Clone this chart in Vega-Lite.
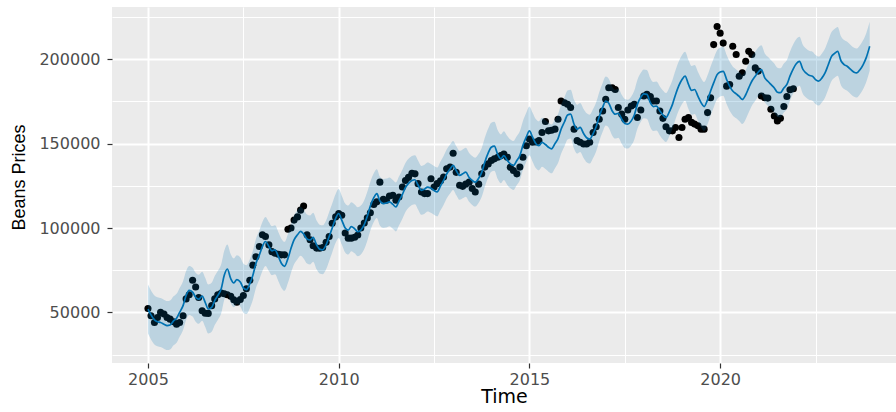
{
"$schema":"https://vega.github.io/schema/vega-lite/v6.json",
"width":784,"height":356,
"autosize":{"type":"none"},
"padding":{"left":112,"top":7,"right":0,"bottom":49},
"background":"#FFFFFF",
"config":{"view":{"fill":"#EBEBEB","stroke":null}},
"datasets":{
"obs":[
{"t":2005.0,"v":52300},{"t":2005.08,"v":48000},{"t":2005.17,"v":44000},{"t":2005.25,"v":47000},{"t":2005.33,"v":50000},{"t":2005.42,"v":49000},{"t":2005.5,"v":47000},{"t":2005.58,"v":46000},{"t":2005.67,"v":44500},{"t":2005.75,"v":43000},{"t":2005.83,"v":44000},{"t":2005.92,"v":48000},
{"t":2006.0,"v":58000},{"t":2006.08,"v":60500},{"t":2006.17,"v":69000},{"t":2006.25,"v":65000},{"t":2006.33,"v":58800},{"t":2006.42,"v":51000},{"t":2006.5,"v":49500},{"t":2006.58,"v":49400},{"t":2006.67,"v":54000},{"t":2006.75,"v":58000},{"t":2006.83,"v":60500},{"t":2006.92,"v":61500},
{"t":2007.0,"v":61000},{"t":2007.08,"v":60500},{"t":2007.17,"v":59500},{"t":2007.25,"v":57500},{"t":2007.33,"v":56000},{"t":2007.42,"v":57600},{"t":2007.5,"v":60000},{"t":2007.58,"v":64000},{"t":2007.67,"v":69000},{"t":2007.75,"v":78000},{"t":2007.83,"v":83000},{"t":2007.92,"v":89000},
{"t":2008.0,"v":96000},{"t":2008.08,"v":95000},{"t":2008.17,"v":90000},{"t":2008.25,"v":86000},{"t":2008.33,"v":85100},{"t":2008.42,"v":84500},{"t":2008.5,"v":84100},{"t":2008.58,"v":84100},{"t":2008.67,"v":99300},{"t":2008.75,"v":100000},{"t":2008.83,"v":104700},{"t":2008.92,"v":106600},
{"t":2009.0,"v":110600},{"t":2009.08,"v":113000},{"t":2009.17,"v":96000},{"t":2009.25,"v":93000},{"t":2009.33,"v":89500},{"t":2009.42,"v":88100},{"t":2009.5,"v":88000},{"t":2009.58,"v":88500},{"t":2009.67,"v":91500},{"t":2009.75,"v":95000},{"t":2009.83,"v":102800},{"t":2009.92,"v":106600},
{"t":2010.0,"v":108600},{"t":2010.08,"v":107600},{"t":2010.17,"v":97000},{"t":2010.25,"v":94000},{"t":2010.33,"v":94000},{"t":2010.42,"v":94500},{"t":2010.5,"v":95900},{"t":2010.58,"v":100000},{"t":2010.67,"v":103000},{"t":2010.75,"v":106000},{"t":2010.83,"v":109000},{"t":2010.92,"v":114000},
{"t":2011.0,"v":115500},{"t":2011.08,"v":127200},{"t":2011.17,"v":117000},{"t":2011.25,"v":116500},{"t":2011.33,"v":119000},{"t":2011.42,"v":119400},{"t":2011.5,"v":116500},{"t":2011.58,"v":118400},{"t":2011.67,"v":124300},{"t":2011.75,"v":128200},{"t":2011.83,"v":130000},{"t":2011.92,"v":132500},
{"t":2012.0,"v":132100},{"t":2012.08,"v":126300},{"t":2012.17,"v":121400},{"t":2012.25,"v":120400},{"t":2012.33,"v":120400},{"t":2012.42,"v":129200},{"t":2012.5,"v":124300},{"t":2012.58,"v":126300},{"t":2012.67,"v":128000},{"t":2012.75,"v":130200},{"t":2012.83,"v":135100},{"t":2012.92,"v":136100},
{"t":2013.0,"v":144300},{"t":2013.08,"v":133000},{"t":2013.17,"v":125300},{"t":2013.25,"v":124700},{"t":2013.33,"v":126000},{"t":2013.42,"v":127200},{"t":2013.5,"v":123400},{"t":2013.58,"v":121400},{"t":2013.67,"v":126000},{"t":2013.75,"v":132100},{"t":2013.83,"v":136100},{"t":2013.92,"v":138000},
{"t":2014.0,"v":140000},{"t":2014.08,"v":141000},{"t":2014.17,"v":142000},{"t":2014.25,"v":142900},{"t":2014.33,"v":143900},{"t":2014.42,"v":141900},{"t":2014.5,"v":136000},{"t":2014.58,"v":134100},{"t":2014.67,"v":132100},{"t":2014.75,"v":136100},{"t":2014.83,"v":142000},{"t":2014.92,"v":148800},
{"t":2015.0,"v":152700},{"t":2015.08,"v":150800},{"t":2015.17,"v":151000},{"t":2015.25,"v":151800},{"t":2015.33,"v":156600},{"t":2015.42,"v":163100},{"t":2015.5,"v":157600},{"t":2015.58,"v":158000},{"t":2015.67,"v":158600},{"t":2015.75,"v":164500},{"t":2015.83,"v":175300},{"t":2015.92,"v":174300},
{"t":2016.0,"v":173300},{"t":2016.08,"v":171400},{"t":2016.17,"v":158600},{"t":2016.25,"v":151800},{"t":2016.33,"v":150800},{"t":2016.42,"v":149800},{"t":2016.5,"v":149800},{"t":2016.58,"v":150800},{"t":2016.67,"v":156600},{"t":2016.75,"v":160000},{"t":2016.83,"v":164500},{"t":2016.92,"v":169400},
{"t":2017.0,"v":176300},{"t":2017.08,"v":183100},{"t":2017.17,"v":183100},{"t":2017.25,"v":182100},{"t":2017.33,"v":171400},{"t":2017.42,"v":167500},{"t":2017.5,"v":164500},{"t":2017.58,"v":170000},{"t":2017.67,"v":172300},{"t":2017.75,"v":173300},{"t":2017.83,"v":165500},{"t":2017.92,"v":170000},
{"t":2018.0,"v":178200},{"t":2018.08,"v":179200},{"t":2018.17,"v":178000},{"t":2018.25,"v":175300},{"t":2018.33,"v":175300},{"t":2018.42,"v":169400},{"t":2018.5,"v":165000},{"t":2018.58,"v":160000},{"t":2018.67,"v":157600},{"t":2018.75,"v":157600},{"t":2018.83,"v":159600},{"t":2018.92,"v":153700},
{"t":2019.0,"v":159600},{"t":2019.08,"v":164500},{"t":2019.17,"v":165500},{"t":2019.25,"v":162600},{"t":2019.33,"v":161600},{"t":2019.42,"v":160600},{"t":2019.5,"v":158600},{"t":2019.58,"v":158600},{"t":2019.67,"v":168400},{"t":2019.75,"v":177200},{"t":2019.83,"v":208700},{"t":2019.92,"v":219400},
{"t":2020.0,"v":215500},{"t":2020.08,"v":209600},{"t":2020.17,"v":184100},{"t":2020.25,"v":185100},{"t":2020.33,"v":207700},{"t":2020.42,"v":202800},{"t":2020.5,"v":190000},{"t":2020.58,"v":192000},{"t":2020.67,"v":198800},{"t":2020.75,"v":204700},{"t":2020.83,"v":202800},{"t":2020.92,"v":194900},
{"t":2021.0,"v":193000},{"t":2021.08,"v":178200},{"t":2021.17,"v":177200},{"t":2021.25,"v":177000},{"t":2021.33,"v":170400},{"t":2021.42,"v":166400},{"t":2021.5,"v":163500},{"t":2021.58,"v":165000},{"t":2021.67,"v":172000},{"t":2021.75,"v":178000},{"t":2021.83,"v":182000},{"t":2021.92,"v":182500}
],
"fc":[
{"t":2005.0,"yhat":52000,"lo":37500,"hi":66500},{"t":2005.08,"yhat":48500,"lo":34000,"hi":63000},{"t":2005.17,"yhat":45500,"lo":31000,"hi":60000},{"t":2005.25,"yhat":44500,"lo":30000,"hi":59000},{"t":2005.33,"yhat":44000,"lo":29500,"hi":58500},{"t":2005.42,"yhat":43000,"lo":28500,"hi":57500},{"t":2005.5,"yhat":42200,"lo":27700,"hi":56700},{"t":2005.58,"yhat":42500,"lo":28000,"hi":57000},{"t":2005.67,"yhat":45000,"lo":30500,"hi":59500},{"t":2005.75,"yhat":46500,"lo":32000,"hi":61000},{"t":2005.83,"yhat":50000,"lo":35500,"hi":64500},{"t":2005.92,"yhat":54000,"lo":39500,"hi":68500},
{"t":2006.0,"yhat":60000,"lo":45500,"hi":74500},{"t":2006.08,"yhat":63000,"lo":48500,"hi":77500},{"t":2006.17,"yhat":62000,"lo":47500,"hi":76500},{"t":2006.25,"yhat":59000,"lo":44500,"hi":73500},{"t":2006.33,"yhat":57800,"lo":43300,"hi":72300},{"t":2006.42,"yhat":59600,"lo":45100,"hi":74100},{"t":2006.5,"yhat":56000,"lo":41500,"hi":70500},{"t":2006.58,"yhat":52000,"lo":37500,"hi":66500},{"t":2006.67,"yhat":53000,"lo":38500,"hi":67500},{"t":2006.75,"yhat":57000,"lo":42500,"hi":71500},{"t":2006.83,"yhat":60000,"lo":45500,"hi":74500},{"t":2006.92,"yhat":64000,"lo":49500,"hi":78500},
{"t":2007.0,"yhat":72000,"lo":57500,"hi":86500},{"t":2007.08,"yhat":75700,"lo":61200,"hi":90200},{"t":2007.17,"yhat":70000,"lo":55500,"hi":84500},{"t":2007.25,"yhat":67500,"lo":53000,"hi":82000},{"t":2007.33,"yhat":69400,"lo":54900,"hi":83900},{"t":2007.42,"yhat":68000,"lo":53500,"hi":82500},{"t":2007.5,"yhat":64500,"lo":50000,"hi":79000},{"t":2007.58,"yhat":63500,"lo":49000,"hi":78000},{"t":2007.67,"yhat":67000,"lo":52500,"hi":81500},{"t":2007.75,"yhat":72000,"lo":57500,"hi":86500},{"t":2007.83,"yhat":79000,"lo":64500,"hi":93500},{"t":2007.92,"yhat":84000,"lo":69500,"hi":98500},
{"t":2008.0,"yhat":89000,"lo":74500,"hi":103500},{"t":2008.08,"yhat":92000,"lo":77500,"hi":106500},{"t":2008.17,"yhat":89000,"lo":74500,"hi":103500},{"t":2008.25,"yhat":86500,"lo":72000,"hi":101000},{"t":2008.33,"yhat":87100,"lo":72600,"hi":101600},{"t":2008.42,"yhat":83000,"lo":68500,"hi":97500},{"t":2008.5,"yhat":79000,"lo":64500,"hi":93500},{"t":2008.58,"yhat":77300,"lo":62800,"hi":91800},{"t":2008.67,"yhat":82000,"lo":67500,"hi":96500},{"t":2008.75,"yhat":88000,"lo":73500,"hi":102500},{"t":2008.83,"yhat":93000,"lo":78500,"hi":107500},{"t":2008.92,"yhat":96000,"lo":81500,"hi":110500},
{"t":2009.0,"yhat":98000,"lo":83500,"hi":112500},{"t":2009.08,"yhat":96500,"lo":82000,"hi":111000},{"t":2009.17,"yhat":93500,"lo":79000,"hi":108000},{"t":2009.25,"yhat":92900,"lo":78400,"hi":107400},{"t":2009.33,"yhat":94500,"lo":80000,"hi":109000},{"t":2009.42,"yhat":90000,"lo":75500,"hi":104500},{"t":2009.5,"yhat":87500,"lo":73000,"hi":102000},{"t":2009.58,"yhat":87100,"lo":72600,"hi":101600},{"t":2009.67,"yhat":90000,"lo":75500,"hi":104500},{"t":2009.75,"yhat":95000,"lo":80500,"hi":109500},{"t":2009.83,"yhat":100000,"lo":85500,"hi":114500},{"t":2009.92,"yhat":105700,"lo":91200,"hi":120200},
{"t":2010.0,"yhat":108600,"lo":94100,"hi":123100},{"t":2010.08,"yhat":104700,"lo":90200,"hi":119200},{"t":2010.17,"yhat":100000,"lo":85500,"hi":114500},{"t":2010.25,"yhat":98800,"lo":84300,"hi":113300},{"t":2010.33,"yhat":100800,"lo":86300,"hi":115300},{"t":2010.42,"yhat":99500,"lo":85000,"hi":114000},{"t":2010.5,"yhat":97800,"lo":83300,"hi":112300},{"t":2010.58,"yhat":98800,"lo":84300,"hi":113300},{"t":2010.67,"yhat":102000,"lo":87500,"hi":116500},{"t":2010.75,"yhat":107000,"lo":92500,"hi":121500},{"t":2010.83,"yhat":113000,"lo":98500,"hi":127500},{"t":2010.92,"yhat":118000,"lo":103500,"hi":132500},
{"t":2011.0,"yhat":120400,"lo":105900,"hi":134900},{"t":2011.08,"yhat":116000,"lo":101500,"hi":130500},{"t":2011.17,"yhat":114500,"lo":100000,"hi":129000},{"t":2011.25,"yhat":114800,"lo":100300,"hi":129300},{"t":2011.33,"yhat":115500,"lo":101000,"hi":130000},{"t":2011.42,"yhat":114000,"lo":99500,"hi":128500},{"t":2011.5,"yhat":112500,"lo":98000,"hi":127000},{"t":2011.58,"yhat":116000,"lo":101500,"hi":130500},{"t":2011.67,"yhat":120000,"lo":105500,"hi":134500},{"t":2011.75,"yhat":124000,"lo":109500,"hi":138500},{"t":2011.83,"yhat":126500,"lo":112000,"hi":141000},{"t":2011.92,"yhat":128200,"lo":113700,"hi":142700},
{"t":2012.0,"yhat":128600,"lo":114100,"hi":143100},{"t":2012.08,"yhat":125500,"lo":111000,"hi":140000},{"t":2012.17,"yhat":122300,"lo":107800,"hi":136800},{"t":2012.25,"yhat":123000,"lo":108500,"hi":137500},{"t":2012.33,"yhat":124300,"lo":109800,"hi":138800},{"t":2012.42,"yhat":123500,"lo":109000,"hi":138000},{"t":2012.5,"yhat":122300,"lo":107800,"hi":136800},{"t":2012.58,"yhat":121400,"lo":106900,"hi":135900},{"t":2012.67,"yhat":125000,"lo":110500,"hi":139500},{"t":2012.75,"yhat":128200,"lo":113700,"hi":142700},{"t":2012.83,"yhat":132000,"lo":117500,"hi":146500},{"t":2012.92,"yhat":135000,"lo":120500,"hi":149500},
{"t":2013.0,"yhat":137100,"lo":122600,"hi":151600},{"t":2013.08,"yhat":134100,"lo":119600,"hi":148600},{"t":2013.17,"yhat":131200,"lo":116700,"hi":145700},{"t":2013.25,"yhat":132100,"lo":117600,"hi":146600},{"t":2013.33,"yhat":133100,"lo":118600,"hi":147600},{"t":2013.42,"yhat":130000,"lo":115500,"hi":144500},{"t":2013.5,"yhat":128200,"lo":113700,"hi":142700},{"t":2013.58,"yhat":127200,"lo":112700,"hi":141700},{"t":2013.67,"yhat":129500,"lo":115000,"hi":144000},{"t":2013.75,"yhat":133000,"lo":118500,"hi":147500},{"t":2013.83,"yhat":139000,"lo":124500,"hi":153500},{"t":2013.92,"yhat":144500,"lo":130000,"hi":159000},
{"t":2014.0,"yhat":147900,"lo":133400,"hi":162400},{"t":2014.08,"yhat":148500,"lo":134000,"hi":163000},{"t":2014.17,"yhat":143500,"lo":129000,"hi":158000},{"t":2014.25,"yhat":141000,"lo":126500,"hi":155500},{"t":2014.33,"yhat":142900,"lo":128400,"hi":157400},{"t":2014.42,"yhat":140000,"lo":125500,"hi":154500},{"t":2014.5,"yhat":138000,"lo":123500,"hi":152500},{"t":2014.58,"yhat":137100,"lo":122600,"hi":151600},{"t":2014.67,"yhat":140000,"lo":125500,"hi":154500},{"t":2014.75,"yhat":143000,"lo":128500,"hi":157500},{"t":2014.83,"yhat":149000,"lo":134500,"hi":163500},{"t":2014.92,"yhat":154000,"lo":139500,"hi":168500},
{"t":2015.0,"yhat":157600,"lo":143100,"hi":172100},{"t":2015.08,"yhat":154000,"lo":139500,"hi":168500},{"t":2015.17,"yhat":150000,"lo":135500,"hi":164500},{"t":2015.25,"yhat":148800,"lo":134300,"hi":163300},{"t":2015.33,"yhat":150800,"lo":136300,"hi":165300},{"t":2015.42,"yhat":149500,"lo":135000,"hi":164000},{"t":2015.5,"yhat":147900,"lo":133400,"hi":162400},{"t":2015.58,"yhat":146900,"lo":132400,"hi":161400},{"t":2015.67,"yhat":150000,"lo":135500,"hi":164500},{"t":2015.75,"yhat":153000,"lo":138500,"hi":167500},{"t":2015.83,"yhat":158500,"lo":144000,"hi":173000},{"t":2015.92,"yhat":163000,"lo":148500,"hi":177500},
{"t":2016.0,"yhat":167000,"lo":152500,"hi":181500},{"t":2016.08,"yhat":167500,"lo":153000,"hi":182000},{"t":2016.17,"yhat":161500,"lo":147000,"hi":176000},{"t":2016.25,"yhat":158600,"lo":144100,"hi":173100},{"t":2016.33,"yhat":159600,"lo":145100,"hi":174100},{"t":2016.42,"yhat":156000,"lo":141500,"hi":170500},{"t":2016.5,"yhat":153500,"lo":139000,"hi":168000},{"t":2016.58,"yhat":152700,"lo":138200,"hi":167200},{"t":2016.67,"yhat":156000,"lo":141500,"hi":170500},{"t":2016.75,"yhat":160000,"lo":145500,"hi":174500},{"t":2016.83,"yhat":166000,"lo":151500,"hi":180500},{"t":2016.92,"yhat":171500,"lo":157000,"hi":186000},
{"t":2017.0,"yhat":175300,"lo":160800,"hi":189800},{"t":2017.08,"yhat":174000,"lo":159500,"hi":188500},{"t":2017.17,"yhat":169400,"lo":154900,"hi":183900},{"t":2017.25,"yhat":167500,"lo":153000,"hi":182000},{"t":2017.33,"yhat":168000,"lo":153500,"hi":182500},{"t":2017.42,"yhat":164500,"lo":150000,"hi":179000},{"t":2017.5,"yhat":162000,"lo":147500,"hi":176500},{"t":2017.58,"yhat":161600,"lo":147100,"hi":176100},{"t":2017.67,"yhat":163500,"lo":149000,"hi":178000},{"t":2017.75,"yhat":167000,"lo":152500,"hi":181500},{"t":2017.83,"yhat":173300,"lo":158800,"hi":187800},{"t":2017.92,"yhat":177500,"lo":163000,"hi":192000},
{"t":2018.0,"yhat":179500,"lo":165000,"hi":194000},{"t":2018.08,"yhat":179200,"lo":164700,"hi":193700},{"t":2018.17,"yhat":174300,"lo":159800,"hi":188800},{"t":2018.25,"yhat":172000,"lo":157500,"hi":186500},{"t":2018.33,"yhat":172300,"lo":157800,"hi":186800},{"t":2018.42,"yhat":169400,"lo":154900,"hi":183900},{"t":2018.5,"yhat":167000,"lo":152500,"hi":181500},{"t":2018.58,"yhat":165500,"lo":151000,"hi":180000},{"t":2018.67,"yhat":169000,"lo":154500,"hi":183500},{"t":2018.75,"yhat":173300,"lo":158800,"hi":187800},{"t":2018.83,"yhat":179000,"lo":164500,"hi":193500},{"t":2018.92,"yhat":184500,"lo":170000,"hi":199000},
{"t":2019.0,"yhat":188000,"lo":173500,"hi":202500},{"t":2019.08,"yhat":190000,"lo":175500,"hi":204500},{"t":2019.17,"yhat":185100,"lo":170600,"hi":199600},{"t":2019.25,"yhat":181600,"lo":167100,"hi":196100},{"t":2019.33,"yhat":182100,"lo":167600,"hi":196600},{"t":2019.42,"yhat":178000,"lo":163500,"hi":192500},{"t":2019.5,"yhat":174300,"lo":159800,"hi":188800},{"t":2019.58,"yhat":172000,"lo":157500,"hi":186500},{"t":2019.67,"yhat":176000,"lo":161500,"hi":190500},{"t":2019.75,"yhat":181200,"lo":166700,"hi":195700},{"t":2019.83,"yhat":186000,"lo":171500,"hi":200500},{"t":2019.92,"yhat":190900,"lo":176400,"hi":205400},
{"t":2020.0,"yhat":192500,"lo":178000,"hi":207000},{"t":2020.08,"yhat":192900,"lo":178400,"hi":207400},{"t":2020.17,"yhat":188000,"lo":173500,"hi":202500},{"t":2020.25,"yhat":184000,"lo":169500,"hi":198500},{"t":2020.33,"yhat":181200,"lo":166700,"hi":195700},{"t":2020.42,"yhat":179500,"lo":165000,"hi":194000},{"t":2020.5,"yhat":178000,"lo":163500,"hi":192500},{"t":2020.58,"yhat":176200,"lo":161700,"hi":190700},{"t":2020.67,"yhat":179000,"lo":164500,"hi":193500},{"t":2020.75,"yhat":183100,"lo":168600,"hi":197600},{"t":2020.83,"yhat":187000,"lo":172500,"hi":201500},{"t":2020.92,"yhat":190000,"lo":175500,"hi":204500},
{"t":2021.0,"yhat":192500,"lo":178000,"hi":207000},{"t":2021.08,"yhat":193900,"lo":179400,"hi":208400},{"t":2021.17,"yhat":189000,"lo":174500,"hi":203500},{"t":2021.25,"yhat":187000,"lo":172500,"hi":201500},{"t":2021.33,"yhat":185100,"lo":170600,"hi":199600},{"t":2021.42,"yhat":183000,"lo":168500,"hi":197500},{"t":2021.5,"yhat":180500,"lo":166000,"hi":195000},{"t":2021.58,"yhat":180200,"lo":165700,"hi":194700},{"t":2021.67,"yhat":183000,"lo":168500,"hi":197500},{"t":2021.75,"yhat":185100,"lo":170600,"hi":199600},{"t":2021.83,"yhat":190000,"lo":175500,"hi":204500},{"t":2021.92,"yhat":194500,"lo":180000,"hi":209000},
{"t":2022.0,"yhat":197500,"lo":183000,"hi":212000},{"t":2022.08,"yhat":198800,"lo":184300,"hi":213300},{"t":2022.17,"yhat":194000,"lo":179500,"hi":208500},{"t":2022.25,"yhat":191900,"lo":177400,"hi":206400},{"t":2022.33,"yhat":190500,"lo":176000,"hi":205000},{"t":2022.42,"yhat":190000,"lo":175500,"hi":204500},{"t":2022.5,"yhat":188000,"lo":173500,"hi":202500},{"t":2022.58,"yhat":187100,"lo":172600,"hi":201600},{"t":2022.67,"yhat":189000,"lo":174500,"hi":203500},{"t":2022.75,"yhat":191900,"lo":177400,"hi":206400},{"t":2022.83,"yhat":196500,"lo":182000,"hi":211000},{"t":2022.92,"yhat":201700,"lo":187200,"hi":216200},
{"t":2023.0,"yhat":203500,"lo":189000,"hi":218000},{"t":2023.08,"yhat":204700,"lo":190200,"hi":219200},{"t":2023.17,"yhat":199000,"lo":184500,"hi":213500},{"t":2023.25,"yhat":196900,"lo":182400,"hi":211400},{"t":2023.33,"yhat":195900,"lo":181400,"hi":210400},{"t":2023.42,"yhat":194000,"lo":179500,"hi":208500},{"t":2023.5,"yhat":192500,"lo":178000,"hi":207000},{"t":2023.58,"yhat":191900,"lo":177400,"hi":206400},{"t":2023.67,"yhat":194000,"lo":179500,"hi":208500},{"t":2023.75,"yhat":196900,"lo":182400,"hi":211400},{"t":2023.83,"yhat":201000,"lo":186500,"hi":215500},{"t":2023.92,"yhat":207700,"lo":193200,"hi":222200}
]
},
"layer":[
{"data":{"name":"obs"},"mark":{"type":"point","filled":true,"color":"#000000","opacity":1,"size":50},
"encoding":{
"x":{"field":"t","type":"quantitative","scale":{"domain":[2004.057,2024.61],"nice":false,"zero":false},
"axis":{"title":"Time","values":[2005,2007.5,2010,2012.5,2015,2017.5,2020,2022.5],"format":"d","labelExpr":"datum.value % 5 === 0 ? datum.label : ''","domain":false,"grid":true,"gridColor":"#FFFFFF","gridOpacity":1,"gridWidth":{"condition":{"test":"datum.value % 5 === 0","value":2},"value":1},"tickColor":"#333333","tickOpacity":{"condition":{"test":"datum.value % 5 === 0","value":1},"value":0},"tickSize":5,"tickWidth":1.2,"labelPadding":3,"labelFont":"DejaVu Sans","labelFontSize":16,"labelColor":"#4D4D4D","labelFlush":false,"labelOverlap":false,"titleFont":"DejaVu Sans","titleFontSize":19,"titleFontWeight":"normal","titleColor":"#000000","titleY":33,"titleBaseline":"middle"}},
"y":{"field":"v","type":"quantitative","scale":{"domain":[20000,231000],"nice":false,"zero":false},
"axis":{"title":"Beans Prices","values":[25000,50000,75000,100000,125000,150000,175000,200000,225000],"format":"d","labelExpr":"datum.value % 50000 === 0 ? datum.label : ''","domain":false,"grid":true,"gridColor":"#FFFFFF","gridOpacity":1,"gridWidth":{"condition":{"test":"datum.value % 50000 === 0","value":2},"value":1},"tickColor":"#333333","tickOpacity":{"condition":{"test":"datum.value % 50000 === 0","value":1},"value":0},"tickSize":5,"tickWidth":1.2,"labelPadding":7,"labelFont":"DejaVu Sans","labelFontSize":16,"labelColor":"#4D4D4D","labelOverlap":false,"titleFont":"Liberation Sans","titleFontSize":18,"titleFontWeight":"normal","titleColor":"#000000","titleX":-93,"titleY":170,"titleAngle":-90,"titleAlign":"center","titleBaseline":"middle"}}
}},
{"data":{"name":"fc"},"mark":{"type":"line","color":"#0072B2","strokeWidth":1.7,"interpolate":"monotone"},
"encoding":{"x":{"field":"t","type":"quantitative","title":"Time"},"y":{"field":"yhat","type":"quantitative","title":"Beans Prices"}}},
{"data":{"name":"fc"},"mark":{"type":"area","color":"#0072B2","opacity":0.2,"interpolate":"monotone"},
"encoding":{"x":{"field":"t","type":"quantitative","title":"Time"},"y":{"field":"lo","type":"quantitative","title":"Beans Prices"},"y2":{"field":"hi"}}}
]
}
